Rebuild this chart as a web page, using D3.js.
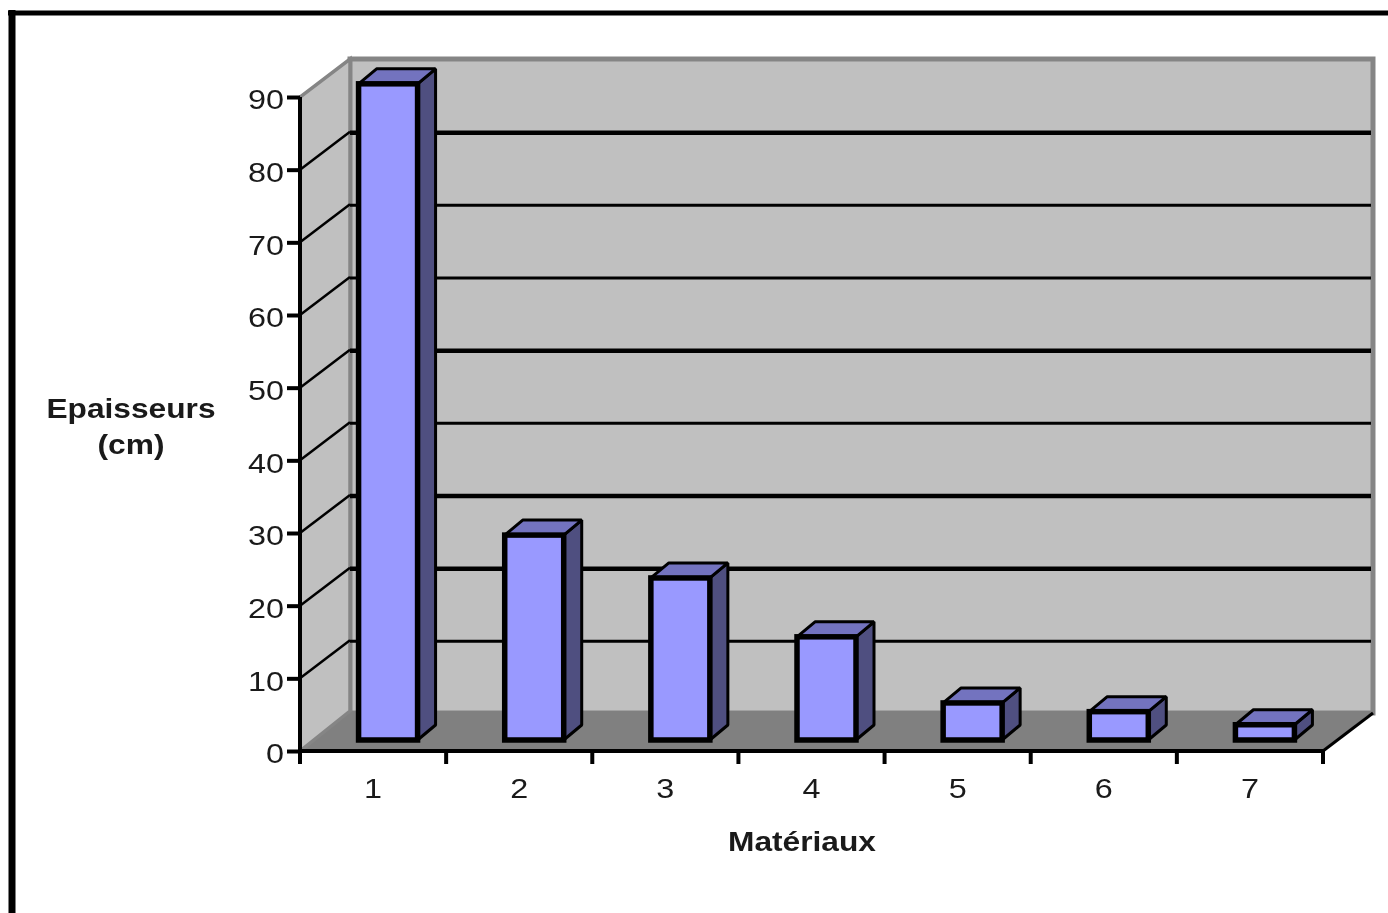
<!DOCTYPE html>
<html>
<head>
<meta charset="utf-8">
<script src="https://cdn.jsdelivr.net/npm/d3@7"></script>
<style>
  html, body { margin: 0; padding: 0; background: #fff; overflow: hidden; }
  svg { display: block; filter: blur(0.7px); }
  text { font-family: "Liberation Sans", Arial, sans-serif; fill: #1a1a1a; }
</style>
</head>
<body>
<script>
var categories = ["1", "2", "3", "4", "5", "6", "7"];
var values = [90.3, 28.2, 22.3, 14.2, 5.1, 3.9, 2.1];
var yTicks = [0, 10, 20, 30, 40, 50, 60, 70, 80, 90];
var yTitle = ["Epaisseurs", "(cm)"];
var xTitle = "Matériaux";

var width = 1388, height = 913;
var depthX = 50, depthY = 38;       // offset of the back wall
var barDepthX = 18, barDepthY = 15; // depth of one bar
var barShiftX = 15, barShiftY = 11; // bars stand a bit inside the floor
var barWidth = 59;
var digitWidth = 18; // the scan is stretched sideways

var svg = d3.select("body")
    .append("svg")
    .attr("width", width)
    .attr("height", height);

var x = d3.scaleBand().domain(categories).range([300, 1323]);
var y = d3.scaleLinear().domain([0, 90]).range([751, 97]);

var poly = function (pts) {
    return "M" + pts.map(function (p) { return p.join(","); }).join("L") + "Z";
};

// page frame
svg.append("line")
    .attr("x1", 8).attr("x2", width)
    .attr("y1", 13).attr("y2", 13)
    .attr("stroke", "#000").attr("stroke-width", 5);
svg.append("line")
    .attr("x1", 12).attr("x2", 12)
    .attr("y1", 10).attr("y2", height)
    .attr("stroke", "#000").attr("stroke-width", 7);

// back wall
svg.append("rect")
    .attr("x", x.range()[0] + depthX)
    .attr("y", y(90) - depthY)
    .attr("width", x.range()[1] - x.range()[0])
    .attr("height", y(0) - y(90))
    .attr("fill", "#c0c0c0")
    .attr("stroke", "#858585")
    .attr("stroke-width", 5);

// floor
svg.append("path")
    .attr("d", poly([[300, y(0)], [300 + depthX, y(0) - depthY - 2], [1323 + depthX, y(0) - depthY - 2], [1323, y(0)]]))
    .attr("fill", "#808080");
svg.append("line")
    .attr("x1", 1323).attr("y1", y(0))
    .attr("x2", 1323 + depthX).attr("y2", y(0) - depthY)
    .attr("stroke", "#000").attr("stroke-width", 3);

// side wall
svg.append("path")
    .attr("d", poly([[300, y(0)], [300, y(90)], [300 + depthX, y(90) - depthY], [300 + depthX, y(0) - depthY - 2]]))
    .attr("fill", "#c0c0c0")
    .attr("stroke", "#858585")
    .attr("stroke-width", 3.5);

// gridlines, back wall and side wall
var grid = svg.append("g");
yTicks.filter(function (d) { return d > 0 && d < 90; }).forEach(function (d) {
    var thick = d == 80 || d == 50 || d == 30 || d == 20;
    grid.append("line")
        .attr("x1", 300 + depthX).attr("x2", 1323 + depthX - 2)
        .attr("y1", y(d) - depthY + 1).attr("y2", y(d) - depthY + 1)
        .attr("stroke", "#000").attr("stroke-width", thick ? 4.5 : 3);
    grid.append("line")
        .attr("x1", 300).attr("x2", 300 + depthX)
        .attr("y1", y(d)).attr("y2", y(d) - depthY)
        .attr("stroke", "#000").attr("stroke-width", 2.5);
});

// bars
var bars = svg.append("g").selectAll("g")
    .data(values)
    .join("g")
    .attr("stroke", "#000")
    .attr("stroke-linejoin", "bevel");

var left = function (d, i) { return x(categories[i]) + x.bandwidth() / 2 + barShiftX - barWidth / 2; };
var top3d = function (d) { return y(d) - barShiftY; };
var bottom3d = y(0) - barShiftY;

bars.append("path")
    .attr("fill", "#4f4f80")
    .attr("stroke-width", 3)
    .attr("d", function (d, i) {
        var r = left(d, i) + barWidth;
        return poly([[r, top3d(d)], [r + barDepthX, top3d(d) - barDepthY], [r + barDepthX, bottom3d - barDepthY], [r, bottom3d]]);
    });
bars.append("path")
    .attr("fill", "#7373bf")
    .attr("stroke-width", 3)
    .attr("d", function (d, i) {
        var l = left(d, i), r = l + barWidth;
        return poly([[l, top3d(d)], [l + barDepthX, top3d(d) - barDepthY], [r + barDepthX, top3d(d) - barDepthY], [r, top3d(d)]]);
    });
bars.append("rect")
    .attr("fill", "#9999ff")
    .attr("stroke-width", 5.5)
    .attr("stroke-linejoin", "miter")
    .attr("x", left)
    .attr("y", top3d)
    .attr("width", barWidth)
    .attr("height", function (d) { return bottom3d - top3d(d); });

// axes
var yAxis = svg.append("g")
    .attr("transform", "translate(300,0)")
    .call(d3.axisLeft(y).tickValues(yTicks).tickSize(13).tickPadding(3));
var xAxis = svg.append("g")
    .attr("transform", "translate(0," + y(0) + ")")
    .call(d3.axisBottom(x).tickSize(0).tickPadding(27));

[yAxis, xAxis].forEach(function (a) {
    a.selectAll("path, line").attr("stroke", "#000").attr("stroke-width", 4);
    a.selectAll("text")
        .attr("font-family", null)
        .attr("lengthAdjust", "spacingAndGlyphs")
        .attr("textLength", function (d) { return String(d).length * digitWidth; })
        .style("font-size", "28px");
});
yAxis.selectAll("text").attr("dy", "0.42em");
xAxis.select("path").attr("d", "M298,0H1325");
yAxis.select("path").attr("d", "M0," + y(90) + "V" + y(0));

// tick marks between the categories
xAxis.selectAll("line.sep")
    .data(categories.concat(""))
    .join("line")
    .attr("class", "sep")
    .attr("x1", function (d, i) { return 300 + i * x.step(); })
    .attr("x2", function (d, i) { return 300 + i * x.step(); })
    .attr("y1", 0).attr("y2", 13)
    .attr("stroke", "#000").attr("stroke-width", 4);

// axis titles
svg.append("g").selectAll("text")
    .data(yTitle)
    .join("text")
    .attr("x", 131)
    .attr("y", function (d, i) { return 418 + i * 36; })
    .attr("text-anchor", "middle")
    .attr("lengthAdjust", "spacingAndGlyphs")
    .attr("textLength", function (d, i) { return i == 0 ? 169 : 67; })
    .style("font-size", "27px")
    .style("font-weight", "bold")
    .text(function (d) { return d; });

svg.append("text")
    .attr("x", 802).attr("y", 851)
    .attr("text-anchor", "middle")
    .attr("lengthAdjust", "spacingAndGlyphs")
    .attr("textLength", 148)
    .style("font-size", "27px")
    .style("font-weight", "bold")
    .text(xTitle);
</script>
</body>
</html>
